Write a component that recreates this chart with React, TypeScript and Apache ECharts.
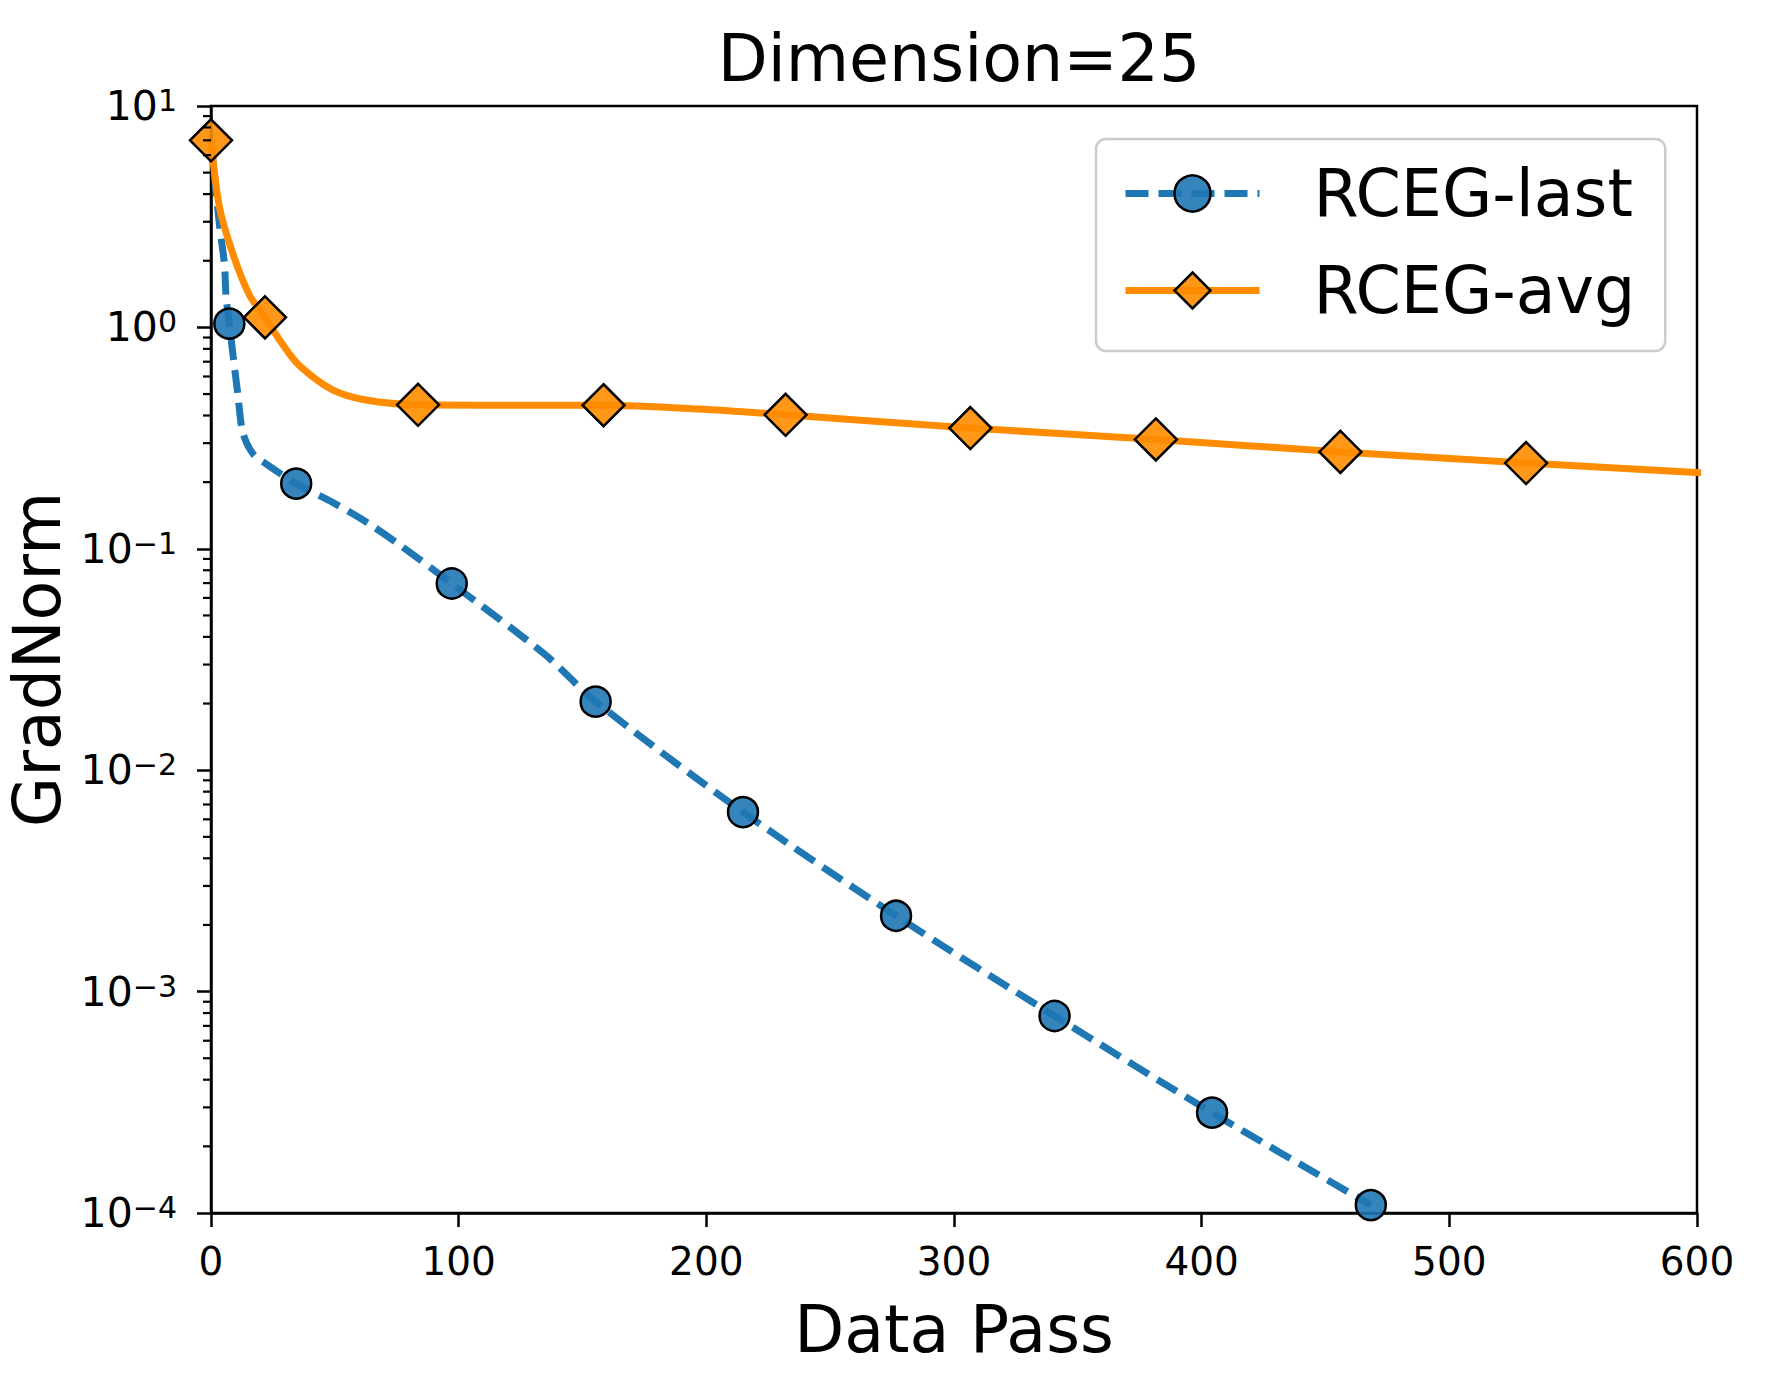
import React, { useEffect, useRef } from "react";
import * as echarts from "echarts";

const FONT = "DejaVu Sans";

// Title / axis names / legend labels
const titleText = "Dimension=25";
const xAxisName = "Data Pass";
const yAxisName = "GradNorm";
const seriesNames = ["RCEG-last", "RCEG-avg"];

// X tick values
const xTicks = [0, 100, 200, 300, 400, 500, 600];
// Y range (10^-4 ... 10^1)
const yMin = 1e-4;
const yMax = 10;
// Minor log ticks multipliers and decades
const minorMultipliers = [2, 3, 4, 5, 6, 7, 8, 9];
const minorDecades = [1e-4, 1e-3, 1e-2, 1e-1, 1];

// RCEG-last (dashed blue, circles)
const lastX = [0, 3.4, 5.4, 6.1, 7.4, 8.7, 10.8, 12.8, 16.8, 22.2, 34.4, 49.1, 62.5, 76, 97.2, 135, 155.3, 214.8, 276.6, 340.6, 404.2, 468.3];
const lastY = [7.0, 2.91, 1.94, 1.37, 1.04, 0.78, 0.503, 0.337, 0.27, 0.242, 0.197, 0.162, 0.1325, 0.1045, 0.0697, 0.0332, 0.0204, 0.00647, 0.0022, 0.000776, 0.000284, 0.0001086];
const lastMarkerIdx = [4, 10, 14, 16, 17, 18, 19, 20, 21];

// RCEG-avg (solid orange, diamonds)
const avgX = [0, 3.4, 8.7, 15.5, 21.8, 28.9, 35.6, 49.1, 62.5, 83.6, 120, 158.5, 197, 232, 306.6, 381.5, 456, 531, 606];
const avgY = [7.0, 3.5, 2.17, 1.4, 1.11, 0.839, 0.674, 0.522, 0.47, 0.447, 0.445, 0.445, 0.428, 0.403, 0.351, 0.312, 0.274, 0.244, 0.219];
const avgMarkerIdx = [0, 4, 9, 11, 13, 14, 15, 16, 17, 18];

const BLUE = "#1f77b4";
const BLUE_FILL = "rgba(31,119,180,0.9)";
const ORANGE = "#ff8c00";
const ORANGE_FILL = "rgba(255,140,0,0.9)";

function buildData(xs: number[], ys: number[], markers: number[]) {
  return xs.map((x, i) =>
    markers.includes(i) ? { value: [x, ys[i]] } : { value: [x, ys[i]], symbol: "none" }
  );
}

export default function App() {
  const ref = useRef<HTMLDivElement>(null);

  useEffect(() => {
    if (!ref.current) return;
    const chart = echarts.init(ref.current, null, { renderer: "svg" });

    const minorTicks: number[][] = [];
    minorDecades.forEach((d) => minorMultipliers.forEach((m) => minorTicks.push([0, m * d])));

    const supFmt = (v: number) => {
      const e = Math.round(Math.log10(v));
      const s = e < 0 ? "\u2212" + Math.abs(e) : String(e);
      return `{b|10}{s|${s}}`;
    };

    const option: any = {
      animation: false,
      backgroundColor: "#ffffff",
      textStyle: { fontFamily: FONT, color: "#000" },
      title: {
        text: titleText,
        left: 954,
        top: 21,
        textAlign: "center",
        textStyle: { fontFamily: FONT, fontSize: 65, fontWeight: "normal", color: "#000" },
      },
      grid: {
        left: 211,
        top: 106,
        right: 69,
        bottom: 182,
        containLabel: false,
        outerBoundsMode: "none",
        show: true,
        borderColor: "#000",
        borderWidth: 2.5,
        backgroundColor: "transparent",
      },
      legend: {
        data: seriesNames,
        orient: "vertical",
        left: 1096,
        top: 139,
        itemWidth: 134,
        itemHeight: 45,
        itemGap: 32,
        padding: [22, 30, 28, 26],
        backgroundColor: "#ffffff",
        borderColor: "#cccccc",
        borderWidth: 2.5,
        borderRadius: 10,
        lineStyle: { width: 7 },
        itemStyle: { borderColor: "#000", borderWidth: 2.5 },
        textStyle: { fontFamily: FONT, fontSize: 65, color: "#000", padding: [0, 0, 0, 49] },
      },
      xAxis: {
        type: "value",
        min: xTicks[0],
        max: xTicks[xTicks.length - 1],
        interval: 100,
        name: xAxisName,
        nameLocation: "middle",
        nameGap: 84,
        nameTextStyle: { fontFamily: FONT, fontSize: 65, color: "#000" },
        axisLine: { show: true, lineStyle: { color: "#000", width: 2.5 } },
        axisTick: { show: true, inside: false, length: 14, lineStyle: { color: "#000", width: 2.5 } },
        axisLabel: { fontFamily: FONT, fontSize: 39, color: "#000", margin: 29, showMinLabel: true, showMaxLabel: true },
        splitLine: { show: false },
      },
      yAxis: {
        type: "log",
        logBase: 10,
        min: yMin,
        max: yMax,
        splitNumber: 5,
        name: yAxisName,
        nameLocation: "middle",
        nameGap: 147,
        nameTextStyle: { fontFamily: FONT, fontSize: 65, lineHeight: 52, color: "#000" },
        axisLine: { show: true, lineStyle: { color: "#000", width: 2.5 } },
        axisTick: { show: true, inside: false, length: 14, lineStyle: { color: "#000", width: 2.5 } },
        axisLabel: {
          margin: 34,
          showMinLabel: true,
          showMaxLabel: true,
          formatter: supFmt,
          rich: {
            b: { fontFamily: FONT, fontSize: 41, lineHeight: 41, color: "#000", verticalAlign: "bottom" },
            s: { fontFamily: FONT, fontSize: 30, lineHeight: 30, color: "#000", verticalAlign: "top" },
          },
        },
        splitLine: { show: false },
      },
      series: [
        {
          name: seriesNames[0],
          type: "line",
          data: buildData(lastX, lastY, lastMarkerIdx),
          smooth: 0.3,
          symbol: "circle",
          symbolSize: 30,
          showSymbol: true,
          showAllSymbol: true,
          clip: true,
          lineStyle: { color: BLUE, width: 7, type: [23, 10] },
          itemStyle: { color: BLUE_FILL, borderColor: "#000", borderWidth: 2.5 },
          z: 3,
        },
        {
          name: seriesNames[1],
          type: "line",
          data: buildData(avgX, avgY, avgMarkerIdx),
          smooth: 0.3,
          symbol: "diamond",
          symbolSize: [42, 42],
          showSymbol: true,
          showAllSymbol: true,
          clip: true,
          lineStyle: { color: ORANGE, width: 7, type: "solid" },
          itemStyle: { color: ORANGE_FILL, borderColor: "#000", borderWidth: 2.5 },
          z: 4,
        },
        {
          name: "minorTicks",
          type: "custom",
          coordinateSystem: "cartesian2d",
          silent: true,
          clip: false,
          data: minorTicks,
          renderItem: (_params: any, api: any) => {
            const p = api.coord([api.value(0), api.value(1)]);
            return {
              type: "line",
              shape: { x1: p[0] - 8, y1: p[1], x2: p[0], y2: p[1] },
              style: { stroke: "#000", lineWidth: 2.2 },
            };
          },
          z: 6,
        },
      ],
    };

    chart.setOption(option);
    return () => chart.dispose();
  }, []);

  return (
    <div
      ref={ref}
      style={{ position: "absolute", left: 0, top: 0, width: 1766, height: 1395, background: "#fff" }}
    />
  );
}
